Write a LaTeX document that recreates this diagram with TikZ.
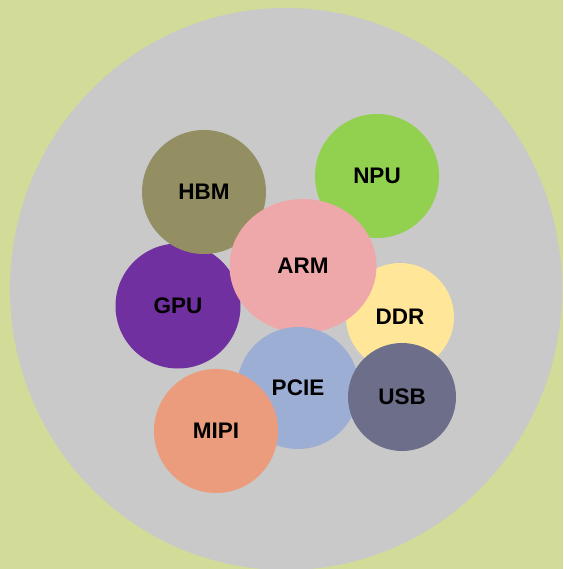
\documentclass[tikz,border=0pt]{standalone}
\usepackage{fontspec}
\setsansfont{Liberation Sans}
\usetikzlibrary{shapes.geometric}
\definecolor{socbg}{HTML}{D3DB99}
\definecolor{socgray}{HTML}{C9C9C9}
\definecolor{hbmolive}{HTML}{938F62}
\definecolor{npugreen}{HTML}{92D050}
\definecolor{armpink}{HTML}{EFA8AA}
\definecolor{gpupurple}{HTML}{7030A0}
\definecolor{ddryellow}{HTML}{FFE699}
\definecolor{pcieblue}{HTML}{9DAED5}
\definecolor{usbslate}{HTML}{6D6E8A}
\definecolor{mipiorange}{HTML}{EA9C7C}
\tikzset{
  soc text/.style={font=\sffamily\bfseries\fontsize{22.5}{26}\selectfont, text=black},
  soc die/.style={ellipse, fill=socgray, inner sep=0pt, outer sep=0pt},
  soc block/.style={circle, inner sep=0pt, outer sep=0pt, soc text},
  soc core/.style={ellipse, inner sep=0pt, outer sep=0pt, soc text}
}

\begin{document}
\begin{tikzpicture}[x=1pt, y=-1pt]
  \useasboundingbox (0,0) rectangle (563,569);
  \fill[socbg] (0,0) rectangle (563,569);
  \node[soc die, minimum width=552pt, minimum height=562pt] (die) at (286,289) {};

  \node[soc block, fill=gpupurple, minimum size=125pt] (gpu) at (178,306) {GPU};
  \node[soc block, fill=hbmolive, minimum size=124pt] (hbm) at (204,192) {HBM};
  \node[soc block, fill=npugreen, minimum size=124pt] (npu) at (377,176) {NPU};
  \node[soc block, fill=ddryellow, minimum size=108pt] (ddr) at (400,317) {DDR};
  \node[soc core, fill=armpink, minimum width=147pt, minimum height=134pt] (arm) at (303,266) {ARM};
  \node[soc block, fill=pcieblue, minimum size=122pt] (pcie) at (298,388) {PCIE};
  \node[soc block, fill=usbslate, minimum size=108pt] (usb) at (402,397) {USB};
  \node[soc block, fill=mipiorange, minimum size=124pt] (mipi) at (216,431) {MIPI};
\end{tikzpicture}
\end{document}
